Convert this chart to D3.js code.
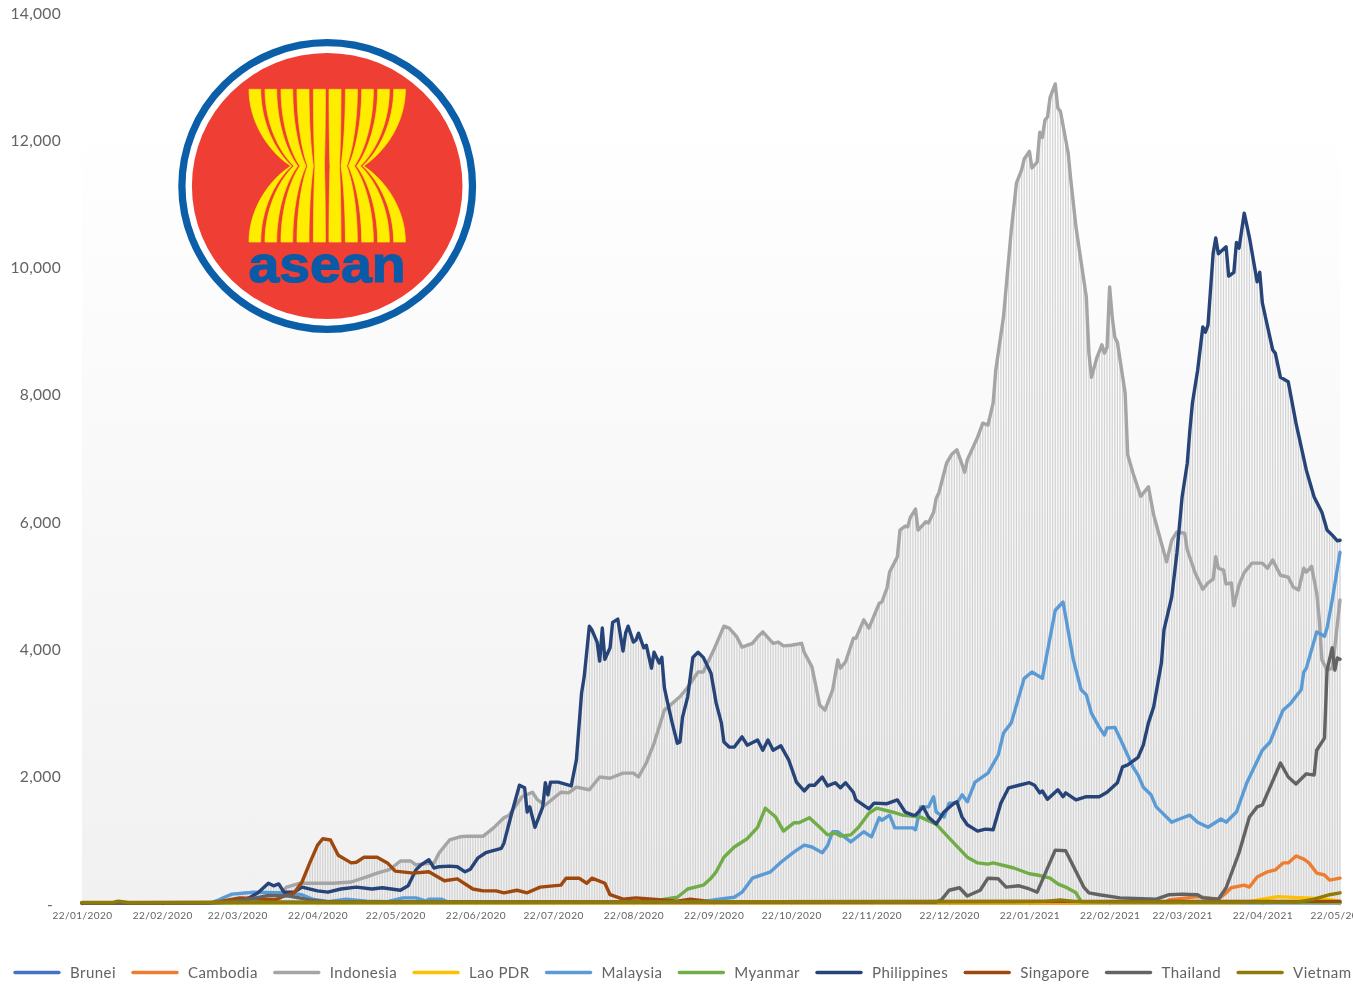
<!DOCTYPE html>
<html>
<head>
<meta charset="utf-8">
<script src="https://cdnjs.cloudflare.com/ajax/libs/d3/7.8.5/d3.min.js"></script>
<style>
html,body{margin:0;padding:0;background:#fff;overflow:hidden}
svg{display:block;filter:blur(0.45px)}
text{font-family:Lato,"Open Sans",sans-serif;fill:#636363}
</style>
</head>
<body>
<svg id="c" width="1353" height="985"></svg>
<script>
// Each series: [days since the first date, daily value]
const startDate = new Date(2020, 0, 22);
const lastDay = 486;
const yTicks = [0, 2000, 4000, 6000, 8000, 10000, 12000, 14000];
const xTickDates = ["2020-01-22","2020-02-22","2020-03-22","2020-04-22","2020-05-22","2020-06-22","2020-07-22","2020-08-22","2020-09-22","2020-10-22","2020-11-22","2020-12-22","2021-01-22","2021-02-22","2021-03-22","2021-04-22","2021-05-22"];

const brunei = [[0,0],[52,0],[58,15],[80,12],[95,2],[486,2]];
const cambodia = [[0,0],[100,5],[380,5],[419,20],[420,50],[431,100],[439,60],[442,160],[444,240],[449,280],[451,250],[454,410],[458,490],[461,520],[464,630],[466,630],[469,740],[472,690],[474,630],[477,470],[480,440],[482,360],[486,390]];
const indonesia = [[0,0],[60,2],[73,10],[74,16],[79,250],[84,310],[97,310],[104,330],[110,410],[114,470],[119,530],[123,660],[127,660],[129,600],[136,630],[138,790],[142,990],[146,1040],[149,1050],[155,1050],[159,1180],[163,1340],[165,1380],[170,1670],[174,1740],[176,1620],[179,1540],[185,1740],[188,1730],[191,1820],[196,1780],[200,1980],[204,1960],[209,2040],[213,2040],[215,1980],[218,2200],[221,2510],[225,3030],[231,3240],[234,3390],[238,3630],[240,3630],[244,3970],[248,4350],[250,4320],[253,4180],[255,4020],[259,4080],[261,4180],[263,4260],[267,4080],[269,4100],[271,4040],[274,4050],[278,4080],[279,3940],[282,3710],[285,3110],[287,3030],[290,3350],[292,3820],[293,3690],[295,3790],[298,4160],[299,4160],[302,4450],[304,4320],[308,4710],[309,4730],[311,4950],[312,5200],[314,5360],[315,5440],[316,5860],[318,5920],[319,5910],[320,6060],[322,6190],[323,5860],[326,5990],[327,5970],[329,6140],[330,6360],[331,6440],[334,6910],[336,7050],[338,7120],[341,6770],[342,6960],[346,7320],[348,7540],[350,7510],[352,7860],[353,8370],[356,9210],[359,10570],[361,11310],[363,11520],[364,11690],[366,11810],[367,11550],[369,11640],[370,12110],[371,12030],[372,12300],[373,12350],[374,12660],[376,12870],[377,12490],[378,12440],[381,11780],[382,11360],[384,10620],[388,9520],[389,8640],[390,8260],[392,8560],[394,8770],[395,8640],[396,8730],[397,9680],[398,9210],[399,8890],[400,8810],[403,8010],[404,7040],[406,6760],[409,6390],[412,6540],[414,6100],[419,5360],[421,5700],[423,5830],[426,5810],[427,5550],[430,5190],[433,4930],[435,5030],[437,5090],[438,5440],[439,5260],[441,5230],[442,5010],[444,5030],[445,4670],[447,5000],[449,5190],[452,5340],[456,5340],[458,5260],[460,5390],[463,5150],[466,5120],[468,4960],[470,4920],[472,5260],[473,5200],[475,5290],[477,4870],[478,4450],[479,3820],[481,3660],[483,3690],[484,4020],[486,4760]];
const laoPdr = [[0,0],[449,5],[456,60],[462,100],[470,85],[478,70],[486,30]];
const malaysia = [[0,0],[50,5],[53,50],[55,90],[58,140],[64,160],[66,170],[75,160],[79,160],[85,130],[89,60],[95,20],[102,60],[110,30],[118,20],[124,80],[129,80],[133,30],[134,60],[139,60],[141,20],[240,20],[244,50],[252,90],[255,170],[259,390],[266,490],[270,640],[275,800],[279,910],[282,880],[286,790],[288,900],[290,1120],[292,1120],[297,960],[302,1120],[305,1040],[308,1340],[309,1300],[312,1380],[314,1180],[321,1180],[322,1150],[324,1510],[327,1510],[329,1670],[330,1430],[333,1350],[335,1570],[338,1570],[340,1700],[342,1590],[345,1900],[350,2040],[354,2330],[356,2670],[359,2830],[364,3530],[367,3630],[371,3530],[376,4600],[379,4730],[383,3820],[386,3350],[388,3270],[390,2980],[393,2760],[395,2640],[396,2750],[399,2760],[401,2590],[406,2140],[408,2010],[410,1820],[413,1700],[415,1510],[421,1270],[424,1320],[428,1380],[431,1270],[435,1190],[440,1320],[442,1270],[444,1350],[446,1430],[450,1890],[456,2400],[459,2530],[464,3030],[467,3140],[471,3350],[472,3630],[473,3690],[477,4260],[480,4190],[481,4320],[483,4760],[486,5510]];
const myanmar = [[0,0],[222,10],[225,60],[230,90],[234,220],[240,280],[243,390],[245,490],[248,720],[252,880],[257,1010],[261,1190],[264,1490],[268,1350],[271,1130],[275,1260],[277,1260],[281,1340],[285,1190],[288,1070],[291,1100],[293,1050],[297,1070],[300,1190],[304,1410],[307,1490],[313,1430],[317,1380],[324,1350],[330,1240],[335,1020],[342,720],[346,630],[350,610],[352,630],[360,550],[366,460],[369,440],[374,390],[377,300],[380,250],[384,160],[386,20],[486,5]];
const philippines = [[0,0],[60,10],[65,90],[68,160],[72,310],[74,270],[76,300],[78,170],[82,170],[85,250],[91,190],[95,170],[100,220],[106,250],[112,220],[116,240],[123,200],[126,270],[129,520],[131,600],[134,680],[136,550],[138,570],[142,580],[145,570],[148,490],[150,530],[153,710],[156,790],[162,860],[163,940],[166,1410],[169,1850],[171,1810],[172,1430],[173,1510],[175,1190],[178,1510],[179,1890],[180,1700],[181,1900],[184,1900],[189,1840],[191,2250],[193,3300],[194,3550],[196,4350],[197,4290],[199,4100],[200,3800],[201,4320],[202,3830],[204,4010],[205,4410],[207,4460],[209,3960],[210,4240],[211,4350],[213,4100],[214,4130],[215,4240],[217,4010],[218,4050],[220,3690],[221,3940],[223,3770],[224,3860],[225,3380],[226,3190],[228,2830],[230,2510],[231,2530],[232,2920],[234,3240],[236,3860],[238,3940],[240,3860],[243,3610],[245,3140],[247,2830],[248,2530],[250,2450],[252,2450],[255,2610],[257,2480],[261,2560],[263,2400],[265,2560],[267,2400],[270,2470],[273,2250],[276,1900],[279,1760],[281,1850],[283,1850],[286,1980],[288,1840],[291,1890],[293,1810],[295,1890],[298,1740],[299,1620],[304,1480],[306,1570],[311,1560],[315,1620],[318,1430],[321,1380],[322,1380],[325,1510],[327,1350],[330,1240],[333,1430],[337,1570],[338,1590],[340,1350],[342,1230],[346,1130],[349,1160],[352,1150],[355,1570],[358,1810],[362,1850],[366,1890],[368,1850],[370,1730],[371,1760],[373,1630],[377,1780],[379,1670],[380,1730],[384,1620],[388,1670],[393,1670],[396,1740],[400,1890],[402,2140],[404,2170],[408,2290],[410,2480],[412,2830],[414,3080],[417,3770],[418,4290],[421,4810],[423,5500],[425,6380],[427,6910],[428,7430],[429,7860],[431,8370],[433,9050],[434,8970],[435,9080],[437,10210],[438,10450],[439,10200],[442,10310],[443,9850],[445,9910],[446,10380],[447,10290],[449,10840],[451,10460],[454,9760],[455,9910],[456,9430],[460,8690],[461,8640],[463,8260],[466,8190],[469,7540],[473,6800],[476,6380],[479,6140],[481,5860],[483,5780],[485,5690],[486,5700]];
const singapore = [[0,0],[50,5],[53,20],[61,80],[71,60],[75,50],[78,110],[82,160],[85,330],[88,630],[91,910],[93,1010],[96,990],[99,750],[104,630],[106,640],[109,720],[114,720],[118,630],[121,500],[128,470],[134,490],[140,350],[145,380],[151,220],[155,190],[160,190],[163,160],[168,200],[172,160],[177,250],[185,280],[187,390],[192,390],[195,310],[197,390],[202,310],[204,130],[209,60],[214,80],[223,50],[230,30],[235,60],[243,20],[486,25]];
const thailand = [[0,0],[50,2],[55,10],[65,60],[72,120],[80,110],[88,50],[95,20],[330,15],[332,50],[335,200],[339,240],[342,110],[347,200],[350,390],[354,380],[357,250],[362,270],[366,220],[369,170],[376,830],[380,820],[387,250],[389,160],[393,130],[401,80],[415,60],[420,130],[425,140],[431,130],[433,80],[439,60],[442,240],[447,790],[451,1350],[454,1510],[456,1540],[459,1820],[463,2200],[466,1980],[469,1870],[473,2030],[476,2010],[477,2400],[480,2590],[481,3660],[483,4010],[484,3660],[485,3850],[486,3830]];
const vietnam = [[0,8],[12,8],[14,30],[18,8],[50,12],[372,25],[378,50],[383,25],[400,18],[470,15],[476,60],[482,130],[486,160]];

const seriesNames = ["Brunei","Cambodia","Indonesia","Lao PDR","Malaysia","Myanmar","Philippines","Singapore","Thailand","Vietnam"];
const seriesValues = [brunei,cambodia,indonesia,laoPdr,malaysia,myanmar,philippines,singapore,thailand,vietnam];
const seriesColors = ["#4472C4","#ED7D31","#A5A5A5","#FFC000","#5B9BD5","#70AD47","#264478","#9E480E","#636363","#8f7a08"];

const svg = d3.select("#c");
const dayToDate = d => d3.timeDay.offset(startDate, d);
const x = d3.scaleTime().domain([startDate, dayToDate(lastDay)]).range([82, 1340]);
const y = d3.scaleLinear().domain([0, 14000]).range([903, 12]);

const defs = svg.append("defs");
const grad = defs.append("linearGradient").attr("id","bg").attr("x1",0).attr("x2",0).attr("y1",0).attr("y2",1);
grad.append("stop").attr("offset","0%").attr("stop-color","#ffffff");
grad.append("stop").attr("offset","100%").attr("stop-color","#f1f1f1");

svg.append("rect").attr("x",82).attr("y",114).attr("width",1258).attr("height",789).attr("fill","url(#bg)");

// high-low lines: one for every date, up to the highest series on that date
const valueOn = (s, day) => {
  const i = d3.bisector(d => d[0]).left(s, day);
  if (i <= 0) return s[0][1];
  if (i >= s.length) return s[s.length-1][1];
  const a = s[i-1], b = s[i];
  return a[1] + (b[1]-a[1]) * (day-a[0]) / (b[0]-a[0]);
};
const days = d3.range(0, lastDay+1);
svg.append("g").selectAll("line").data(days).join("line")
  .attr("x1", d => x(dayToDate(d))).attr("x2", d => x(dayToDate(d)))
  .attr("y1", y(0))
  .attr("y2", d => y(d3.max(seriesValues, s => valueOn(s, d))))
  .attr("stroke","#d3d3d3").attr("stroke-width",1.25);

// x axis
const parseDay = d3.timeParse("%Y-%m-%d");
const xAxis = d3.axisBottom(x).tickValues(xTickDates.map(parseDay)).tickFormat(d3.timeFormat("%d/%m/%Y")).tickSize(3).tickPadding(6);
const gx = svg.append("g").attr("transform","translate(0,903)").call(xAxis);
gx.select(".domain").attr("stroke","#d9d9d9").attr("stroke-width",1);
gx.selectAll(".tick line").attr("stroke","#d9d9d9");
gx.selectAll("text").attr("font-size",10.1).style("letter-spacing","0.42px").attr("fill","#7a7a7a");

// y axis
const yAxis = d3.axisLeft(y).tickValues(yTicks).tickFormat(d => d === 0 ? "-" : d3.format(",")(d)).tickSize(0).tickPadding(0);
const gy = svg.append("g").attr("transform","translate(61,1)").call(yAxis);
gy.select(".domain").remove();
gy.selectAll("text").attr("font-size",15.6).style("letter-spacing","0.3px").attr("fill","#6a6a6a")
  .attr("dx", d => d === 0 ? -8 : 0);

// series
const line = d3.line().x(d => x(dayToDate(d[0]))).y(d => y(d[1])).curve(d3.curveLinear);
svg.append("g").selectAll("path").data(seriesValues).join("path")
  .attr("d", line).attr("fill","none")
  .attr("stroke",(d,i)=>seriesColors[i]).attr("stroke-width",3.4)
  .attr("stroke-linejoin","round").attr("stroke-linecap","round");

// legend
let lx = 15;
const legend = svg.append("g");
seriesNames.forEach((name,i) => {
  legend.append("line").attr("x1",lx).attr("x2",lx+44).attr("y1",972.5).attr("y2",972.5)
    .attr("stroke",seriesColors[i]).attr("stroke-width",3.4).attr("stroke-linecap","round");
  const t = legend.append("text").attr("x",lx+55).attr("y",978).attr("font-size",15.05).style("letter-spacing","0.43px").attr("fill","#666").text(name);
  lx += 55 + t.node().getComputedTextLength() + 17;
});

// ASEAN emblem
const logo = svg.append("g");
const cx = 327.2, cy = 186;
logo.append("ellipse").attr("cx",cx).attr("cy",cy).attr("rx",145.3).attr("ry",143.3).attr("fill","#fff").attr("stroke","#0a5fa8").attr("stroke-width",7.3);
logo.append("ellipse").attr("cx",cx).attr("cy",cy).attr("rx",135.3).attr("ry",133).attr("fill","#ef3e33");
const topEdges = [[-78.2,-66.5],[-62.2,-50.5],[-46.2,-34.5],[-30.2,-18.2],[-13.8,-1.8]];
const waistEdges = [[-36.5,-35.5],[-33.2,-29.5],[-27.2,-21.2],[-19.5,-13.8],[-12.2,-2.8]];
const yTop = 89.3, yBot = 242, yWaist = 166;
const edge = (xt, xw, yEnd) => {
  const dy = yWaist - yEnd;
  return [[xt, yEnd + 0.42*dy], [xt + 0.45*(xw-xt), yWaist - 0.2*dy], [xw, yWaist]];
};
const stalk = (tl, tr, wl, wr, m) => {
  const X = v => cx + m*v;
  const a = edge(tl, wl, yTop), b = edge(tl, wl, yBot), c = edge(tr, wr, yBot), e = edge(tr, wr, yTop);
  const P = p => X(p[0]) + "," + p[1];
  return "M" + X(tl) + "," + yTop +
    "C" + P(a[0]) + " " + P(a[1]) + " " + P(a[2]) +
    "C" + P(b[1]) + " " + P(b[0]) + " " + X(tl) + "," + yBot +
    "L" + X(tr) + "," + yBot +
    "C" + P(c[0]) + " " + P(c[1]) + " " + P(c[2]) +
    "C" + P(e[1]) + " " + P(e[0]) + " " + X(tr) + "," + yTop + "Z";
};
[1,-1].forEach(m => topEdges.forEach((t,i) => {
  logo.append("path").attr("d", stalk(t[0],t[1],waistEdges[i][0],waistEdges[i][1],m))
    .attr("fill","#ffed00").attr("stroke","#ffed00").attr("stroke-width",0.7);
}));
logo.append("text").attr("x",248.5).attr("y",282).attr("textLength",157).attr("lengthAdjust","spacingAndGlyphs")
  .style("font-family","'Liberation Sans',sans-serif").style("font-weight",700).style("font-size","52px")
  .style("fill","#0b5aa8").style("stroke","#0b5aa8").style("stroke-width","1.2px").text("asean");
</script>
</body>
</html>
